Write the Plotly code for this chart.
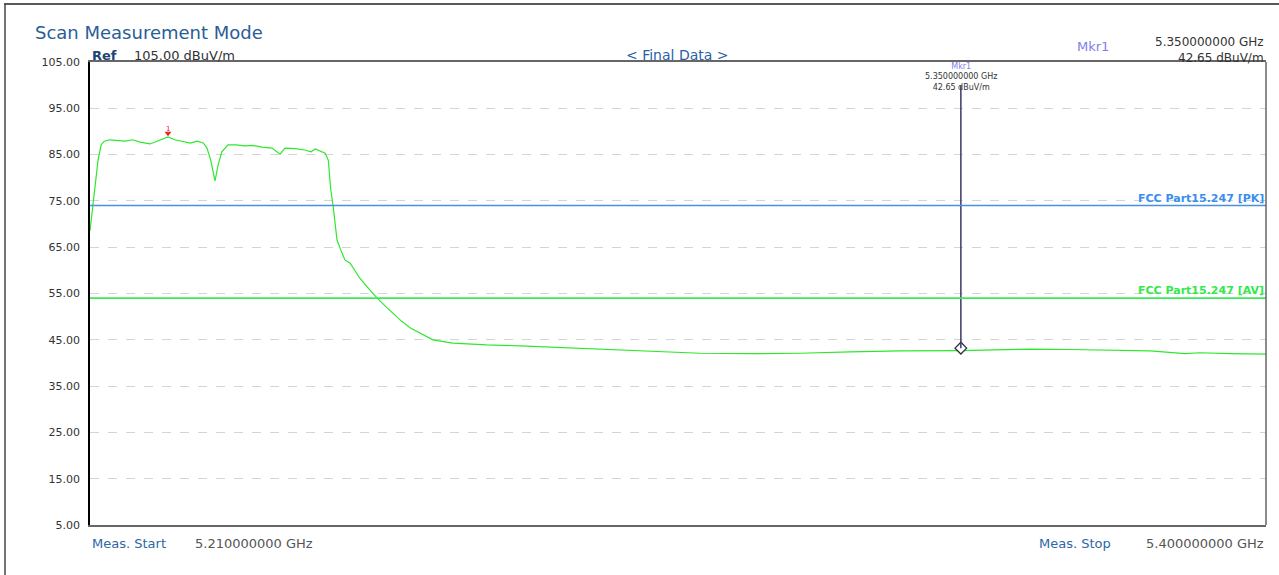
import plotly.graph_objects as go

# ---------------- data ----------------
freq_ghz = [5.2100, 5.2103, 5.2108, 5.2113, 5.2118, 5.2123, 5.2132, 5.2145, 5.2157, 5.2169,
            5.2181, 5.2197, 5.2210, 5.2226, 5.2237, 5.2250, 5.2262, 5.2273, 5.2283, 5.2289,
            5.2295, 5.2302, 5.2307, 5.2313, 5.2323, 5.2336, 5.2350, 5.2362, 5.2378, 5.2394,
            5.2407, 5.2415, 5.2431, 5.2447, 5.2457, 5.2464, 5.2472, 5.2480, 5.2485, 5.2489,
            5.2493, 5.2496, 5.2499, 5.2504, 5.2512, 5.2520, 5.2525, 5.2536, 5.2552, 5.2564,
            5.2580, 5.2601, 5.2617, 5.2633, 5.2654, 5.2686, 5.2741, 5.2795, 5.2848, 5.2903,
            5.2956, 5.3005, 5.3086, 5.3166, 5.3247, 5.3328, 5.3409, 5.3507, 5.3570, 5.3619,
            5.3683, 5.3748, 5.3813, 5.3869, 5.3893, 5.3942, 5.4000]
level_dbuv = [68.5, 72.0, 78.4, 83.8, 87.1, 87.9, 88.2, 88.0, 87.9, 88.2,
              87.7, 87.3, 87.9, 88.8, 88.2, 87.9, 87.5, 87.9, 87.5, 86.4,
              83.8, 79.3, 82.8, 85.6, 87.1, 87.1, 86.9, 87.0, 86.6, 86.4,
              85.1, 86.4, 86.3, 86.0, 85.6, 86.2, 85.8, 85.3, 83.8, 77.4,
              73.7, 70.2, 66.6, 64.8, 62.2, 61.6, 60.5, 58.3, 55.8, 54.0,
              51.9, 49.3, 47.6, 46.5, 45.0, 44.3, 43.9, 43.7, 43.4, 43.2,
              42.8, 42.6, 42.1, 42.0, 42.1, 42.4, 42.6, 42.65, 42.8, 43.0,
              42.9, 42.8, 42.6, 42.0, 42.2, 42.0, 41.9]

y_ticks = [5, 15, 25, 35, 45, 55, 65, 75, 85, 95, 105]
y_tick_labels = ["5.00", "15.00", "25.00", "35.00", "45.00", "55.00",
                 "65.00", "75.00", "85.00", "95.00", "105.00"]

pk_limit = 74.0
av_limit = 54.0
pk_label = "FCC Part15.247 [PK]"
av_label = "FCC Part15.247 [AV]"

# marker 1: drawn position, readout as printed
mkr1_freq = [5.3507]
mkr1_level = [43.2]
mkr1_readout_freq = "5.350000000 GHz"
mkr1_readout_level = "42.65 dBuV/m"
peak_freq = [5.2226]
peak_level = [88.8]

start_ghz = 5.21
stop_ghz = 5.40
ref_level = 105.00
y_min = 5.0

# ---------------- layout geometry ----------------
W, H = 1279, 575
L, R, T, B = 90, 1266, 62, 525


def px(x):
    return (x - L) / (R - L)


def py(y):
    return (B - y) / (B - T)


FONT = "DejaVu Sans"

fig = go.Figure()

# measured trace
fig.add_trace(go.Scatter(x=freq_ghz, y=level_dbuv, mode="lines",
                         line=dict(color="#2ee82e", width=1.2),
                         hoverinfo="skip", showlegend=False))

# marker 1 stem + diamond
fig.add_shape(type="line", xref="x", yref="paper", x0=mkr1_freq[0], x1=mkr1_freq[0],
              y0=(mkr1_level[0] - y_min) / (ref_level - y_min), y1=py(86),
              line=dict(color="#3a3a66", width=1.5))
fig.add_trace(go.Scatter(x=mkr1_freq, y=mkr1_level, mode="markers",
                         marker=dict(symbol="diamond", size=9, color="white",
                                     line=dict(color="#2a2a4a", width=1.3)),
                         hoverinfo="skip", showlegend=False))

# peak marker (red triangle)
fig.add_trace(go.Scatter(x=peak_freq, y=[v + 0.8 for v in peak_level], mode="markers",
                         marker=dict(symbol="triangle-down", size=6, color="#ee2222"),
                         hoverinfo="skip", showlegend=False))

# limit lines
fig.add_shape(type="line", xref="paper", yref="y", x0=0, x1=1, y0=pk_limit, y1=pk_limit,
              line=dict(color="#4a8fe0", width=1.6))
fig.add_shape(type="line", xref="paper", yref="y", x0=0, x1=1, y0=av_limit, y1=av_limit,
              line=dict(color="#3ee85a", width=1.6))

# right border of plot
fig.add_shape(type="line", xref="paper", yref="paper", x0=1, x1=1, y0=0, y1=1,
              line=dict(color="#666666", width=1.5))

# outer frame (top and left)
fig.add_shape(type="line", xref="paper", yref="paper", x0=px(4), x1=px(W + 5),
              y0=py(4), y1=py(4), line=dict(color="#222222", width=1.5))
fig.add_shape(type="line", xref="paper", yref="paper", x0=px(5), x1=px(5),
              y0=py(4), y1=py(H + 5), line=dict(color="#444444", width=1.5))

ann = []


def text(x, y, s, size, color, anchor="left", bold=False, align="left"):
    ann.append(dict(
        x=px(x), y=py(y), xref="paper", yref="paper",
        text=("<b>%s</b>" % s) if bold else s,
        showarrow=False, xanchor=anchor, yanchor="middle", align=align,
        font=dict(family=FONT, size=size, color=color)))


text(33, 33, "Scan Measurement Mode", 18, "#2a5d96")
text(90, 55, "Ref", 13, "#1c4478", bold=True)
text(132, 55, "%.2f dBuV/m" % ref_level, 13, "#333333")
text(677, 55, "&lt; Final Data &gt;", 14, "#2a5fa8", anchor="center")
text(1075, 47, "Mkr1", 13, "#7f7fe8")
text(1266, 50, "%s<br>%s" % (mkr1_readout_freq, mkr1_readout_level), 12,
     "#333333", anchor="right", align="right")

# marker label inside the plot
text(961, 77, "<span style='color:#7f7fe8'>Mkr1</span><br>%s<br>%s"
     % (mkr1_readout_freq, mkr1_readout_level), 8, "#333333", anchor="center", align="center")

# peak marker number
text(168, 129, "1", 7, "#ee2222", anchor="center")

# limit labels
ann.append(dict(x=1, y=pk_limit, xref="paper", yref="y", text="<b>%s</b>" % pk_label,
                showarrow=False, xanchor="right", yanchor="bottom", yshift=-1,
                font=dict(family=FONT, size=11, color="#3a8ef0")))
ann.append(dict(x=1, y=av_limit, xref="paper", yref="y", text="<b>%s</b>" % av_label,
                showarrow=False, xanchor="right", yanchor="bottom", yshift=-1,
                font=dict(family=FONT, size=11, color="#33e84a")))

# bottom labels
text(90, 543, "Meas. Start", 13, "#2e66a6")
text(193, 543, "%.9f GHz" % start_ghz, 13, "#555555")
text(1037, 543, "Meas. Stop", 13, "#2e66a6")
text(1266, 543, "%.9f GHz" % stop_ghz, 13, "#555555", anchor="right")

fig.update_layout(
    width=W, height=H,
    margin=dict(l=L, r=W - R, t=T, b=H - B, pad=0),
    paper_bgcolor="white", plot_bgcolor="white",
    annotations=ann,
    showlegend=False,
    xaxis=dict(range=[start_ghz, stop_ghz], showgrid=False, zeroline=False,
               showticklabels=False, ticks="", showline=True, linecolor="#666666",
               linewidth=1.5, mirror=True, fixedrange=True),
    yaxis=dict(range=[y_min, ref_level], tickvals=y_ticks, ticktext=y_tick_labels,
               showgrid=True, gridcolor="#d4d4d4", griddash="dash", gridwidth=1,
               zeroline=False, ticks="", ticklabelstandoff=6,
               tickfont=dict(family=FONT, size=11, color="#333333"),
               showline=True, linecolor="#000000", linewidth=1.5, fixedrange=True),
)

fig.write_html("out.html", config={"displayModeBar": False},
               post_script="document.body.style.margin='0';"
                           "document.body.style.overflow='hidden';")
